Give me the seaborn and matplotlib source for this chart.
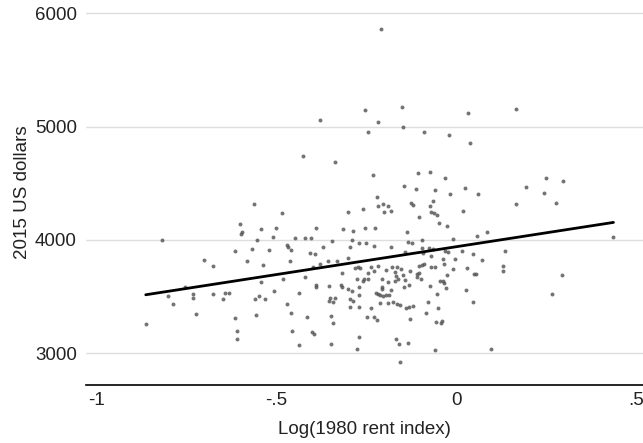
import matplotlib
matplotlib.use("Agg")
import matplotlib.pyplot as plt
import seaborn as sns
import pandas as pd

# Log(1980 rent index)
rent_log = [
    # left part
    -0.560, -0.601, -0.594, -0.598, -0.542, -0.817, -0.552, -0.614, -0.567, -0.519,
    -0.701, -0.582, -0.675, -0.537, -0.541, -0.753, -0.800, -0.732, -0.731, -0.676,
    -0.643, -0.631, -0.647, -0.559, -0.547, -0.531, -0.786, -0.722, -0.557, -0.862,
    -0.615, -0.609, -0.608,
    # upper middle
    -0.210, -0.254, -0.149, -0.379, -0.218, -0.244, -0.147, -0.090, -0.020, -0.426,
    -0.337, -0.230, -0.107, -0.072, -0.030,
    # upper right
    0.033, 0.165, 0.039, 0.249,
    # right part
    0.024, 0.195, 0.297, 0.060, 0.019, 0.167, 0.244, 0.277, 0.087, 0.059,
    0.437, 0.015, -0.002, 0.047, 0.073, 0.136, 0.029, 0.051, 0.055, 0.129,
    0.129, 0.293, 0.027, 0.266, 0.046, 0.097,
    # dense middle
    -0.144, -0.111, -0.058, -0.017, -0.220, -0.218, -0.202, -0.190, -0.126, -0.121,
    -0.065, -0.072, -0.484, -0.300, -0.258, -0.199, -0.182, -0.069, -0.062, -0.104,
    -0.052, -0.047, -0.026, -0.499, -0.388, -0.313, -0.287, -0.254, -0.224, -0.136,
    -0.509, -0.447, -0.421, -0.402, -0.344, -0.288, -0.270, -0.250, -0.135, -0.122,
    -0.096, -0.009, -0.470, -0.466, -0.459, -0.371, -0.296, -0.227, -0.182, -0.094,
    -0.074, -0.065, -0.460, -0.406, -0.393, -0.301, -0.356, -0.330, -0.141, -0.091,
    -0.023, -0.031, -0.071, -0.037, -0.378, -0.398, -0.273, -0.267, -0.280, -0.237,
    -0.218, -0.227, -0.245, -0.195, -0.179, -0.164, -0.094, -0.102, -0.088, -0.071,
    -0.059, -0.154, -0.169, -0.148, -0.128, -0.104, -0.109, -0.008, -0.033, -0.108,
    -0.097, -0.025, -0.167, -0.161, -0.143, -0.507, -0.481, -0.419, -0.318, -0.274,
    -0.256, -0.259, -0.245, -0.206, -0.189, -0.169, -0.271, -0.388, -0.388, -0.352,
    -0.320, -0.316, -0.301, -0.289, -0.205, -0.206, -0.222, -0.218, -0.211, -0.203,
    -0.195, -0.187, -0.182, -0.144, -0.132, -0.044, -0.036, -0.033, -0.072, -0.053,
    -0.029, -0.436, -0.350, -0.353, -0.337, -0.343, -0.270, -0.294, -0.286, -0.470,
    -0.458, -0.296, -0.271, -0.237, -0.211, -0.188, -0.176, -0.165, -0.157, -0.139,
    -0.132, -0.119, -0.077, -0.051, -0.415, -0.348, -0.341, -0.248, -0.227, -0.219,
    -0.127, -0.085, -0.056, -0.043, -0.039, -0.456, -0.400, -0.394, -0.271, -0.166,
    -0.160, -0.135, -0.435, -0.348, -0.274, -0.060, -0.156,
]

# 2015 US dollars
dollars = [
    4321, 4138, 4068, 4053, 4094, 4000, 4000, 3903, 3921, 3909,
    3827, 3818, 3768, 3782, 3626, 3585, 3503, 3521, 3488, 3521,
    3532, 3529, 3479, 3476, 3503, 3476, 3438, 3350, 3341, 3262,
    3312, 3197, 3123,
    5859, 5147, 5177, 5059, 5045, 4950, 4995, 4950, 4930, 4744,
    4689, 4571, 4589, 4600, 4547,
    5118, 5153, 4853, 4544,
    4459, 4465, 4518, 4406, 4253, 4321, 4412, 4330, 4074, 4035,
    4024, 3903, 3835, 3876, 3827, 3900, 3750, 3697, 3697, 3771,
    3729, 3688, 3562, 3521, 3456, 3038,
    4474, 4450, 4441, 4406, 4382, 4300, 4315, 4303, 4324, 4312,
    4347, 4300, 4241, 4247, 4277, 4247, 4256, 4247, 4235, 4203,
    4218, 4153, 4126, 4109, 4103, 4100, 4082, 4109, 4109, 4068,
    4024, 4021, 4015, 4015, 3991, 4000, 3977, 3977, 3985, 3971,
    4000, 4012, 3956, 3941, 3912, 3941, 3941, 3950, 3935, 3926,
    3932, 3918, 3815, 3882, 3876, 3844, 3818, 3812, 3891, 3888,
    3897, 3906, 3856, 3835, 3791, 3765, 3765, 3753, 3753, 3759,
    3771, 3729, 3712, 3735, 3762, 3759, 3779, 3771, 3788, 3762,
    3759, 3741, 3718, 3694, 3729, 3712, 3700, 3741, 3788, 3676,
    3659, 3691, 3679, 3656, 3647, 3547, 3653, 3671, 3706, 3659,
    3659, 3638, 3653, 3656, 3629, 3638, 3588, 3603, 3582, 3597,
    3600, 3585, 3571, 3550, 3588, 3565, 3535, 3521, 3512, 3506,
    3515, 3515, 3559, 3588, 3603, 3638, 3638, 3623, 3594, 3523,
    3576, 3529, 3488, 3459, 3491, 3456, 3515, 3476, 3465, 3435,
    3359, 3412, 3406, 3403, 3441, 3441, 3456, 3435, 3423, 3403,
    3412, 3420, 3453, 3397, 3323, 3329, 3270, 3323, 3323, 3297,
    3300, 3359, 3273, 3265, 3285, 3200, 3191, 3167, 3141, 3126,
    3082, 3088, 3073, 3082, 3035, 3026, 2923,
]

x_ticks = [-1, -0.5, 0, 0.5]
x_tick_labels = ["-1", "-.5", "0", ".5"]
y_ticks = [3000, 4000, 5000, 6000]
y_tick_labels = ["3000", "4000", "5000", "6000"]

df = pd.DataFrame({"rent": rent_log, "usd": dollars})

sns.set_style("white")
plt.rcParams["font.family"] = ["Liberation Sans", "DejaVu Sans"]

fig = plt.figure(figsize=(6.43, 4.43), dpi=100)
ax = fig.add_axes([0.1337, 0.1309, 0.8663, 0.8691])

for yv in y_ticks:
    ax.axhline(yv, color="#dedede", lw=1.0, zorder=0)

sns.regplot(data=df, x="rent", y="usd", ax=ax, ci=None, truncate=True,
            scatter_kws={"s": 8, "color": "#505050", "linewidths": 0, "zorder": 2},
            line_kws={"color": "black", "lw": 2.0, "zorder": 3})

ax.set_xlim(-1.028, 0.519)
ax.set_ylim(2720, 6118)
ax.set_xticks(x_ticks)
ax.set_xticklabels(x_tick_labels)
ax.set_yticks(y_ticks)
ax.set_yticklabels(y_tick_labels)

for s in ["left", "right", "top"]:
    ax.spines[s].set_visible(False)
ax.spines["bottom"].set_color("black")
ax.spines["bottom"].set_linewidth(1.2)

ax.tick_params(axis="x", direction="in", length=4, width=0.8, color="#555555",
               labelsize=13.5, pad=5, colors="#222222")
ax.tick_params(axis="y", length=0, labelsize=13.5, pad=6.5, colors="#222222")

ax.set_xlabel("Log(1980 rent index)", fontsize=13.5, color="#222222", labelpad=9)
ax.set_ylabel("2015 US dollars", fontsize=13.5, color="#222222", labelpad=3)

fig.savefig("out.png", dpi=100)
